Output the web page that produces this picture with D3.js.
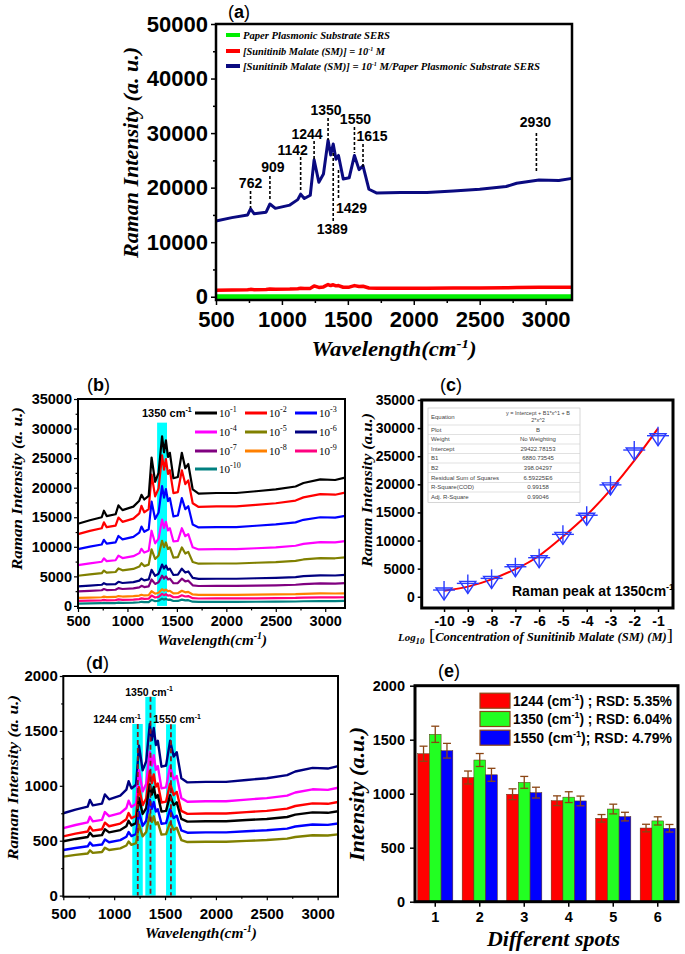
<!DOCTYPE html>
<html><head><meta charset="utf-8">
<script src="https://cdn.jsdelivr.net/npm/d3@7"></script>
<style>body{margin:0;background:#fff}svg{display:block}</style>
</head><body>
<script>
// ---------------- DATA ----------------
const specX = [500,620,740,762,790,880,909,950,1060,1120,1142,1170,1215,1244,1280,1315,1350,1370,1389,1410,1429,1465,1510,1550,1585,1615,1660,1720,1900,2100,2300,2500,2700,2780,2950,3100,3200];

// panel (a)
const aSubstrate = [0,0,0,0,0,0,0,0,0,0,0,0,0,0,0,0,0,0,0,0,0,0,0,0,0,0,0,0,0,0,0,0,0,0,0,0,0];
const aBulkSM    = [1200,1240,1280,1350,1290,1310,1420,1360,1400,1470,1570,1490,1530,1980,1700,1800,2240,2050,2190,1990,2040,1740,1750,2040,1860,1910,1610,1560,1560,1560,1590,1610,1640,1680,1730,1720,1750];
const aLegend = ["Paper Plasmonic Substrate SERS", "[Sunitinib Malate (SM)] = 10", "[Sunitinib Malate (SM)] = 10"];
const peakLabels = [762, 909, 1142, 1244, 1350, 1389, 1429, 1550, 1615, 2930];

// panel (b): concentrations 10^-1 ... 10^-10
const bExp = ["-1","-2","-3","-4","-5","-6","-7","-8","-9","-10"];
const sm1  = [13900,14500,15000,16100,15200,15500,17000,16200,16800,17800,18800,18000,18600,25100,21000,22500,28700,26000,28000,25200,25900,21600,21800,25900,23300,24000,19700,19000,19100,19100,19400,19700,20200,20800,21400,21300,21700];
const sm2  = [12150,12690,13140,14130,13320,13590,14940,14220,14760,15660,16920,15840,16380,22230,18540,19890,25470,23040,24840,22320,22950,19080,19260,22950,20610,21240,17370,16740,16830,16830,17100,17370,17820,18360,18900,18810,19170];
const sm3  = [9600,10030,10390,11180,10540,10750,11830,11260,11690,12410,13420,12550,12980,17660,14710,15790,20260,18310,19750,17740,18240,15140,15290,18240,16370,16870,13780,13270,13340,13340,13560,13780,14140,14570,15000,14930,15220];
const sm4  = [6900,7210,7470,8040,7580,7730,8510,8100,8410,8930,9660,9030,9340,12720,10590,11370,14600,13190,14230,12780,13140,10900,11010,13140,11790,12150,9920,9550,9600,9600,9760,9920,10180,10490,10800,10750,10960];
const sm5  = [5100,5340,5540,5980,5620,5740,6340,6020,6260,6660,7220,6740,6980,9580,7940,8540,11020,9940,10740,9620,9900,8180,8260,9900,8860,9140,7420,7140,7180,7180,7300,7420,7620,7860,8100,8060,8220];
const sm6  = [3300,3450,3580,3850,3630,3700,4080,3880,4030,4280,4630,4330,4480,6100,5080,5450,7000,6330,6830,6130,6300,5230,5280,6300,5650,5830,4750,4580,4600,4600,4680,4750,4880,5030,5180,5150,5250];
const sm7  = [2450,2560,2650,2850,2680,2740,3010,2860,2970,3150,3400,3190,3300,4470,3730,4000,5110,4630,4990,4480,4610,3840,3870,4610,4140,4270,3490,3370,3390,3390,3440,3490,3580,3690,3800,3780,3850];
const sm8  = [1360,1420,1470,1580,1490,1520,1670,1590,1650,1750,1890,1770,1830,2480,2070,2220,2840,2570,2770,2490,2560,2130,2150,2560,2300,2370,1940,1870,1880,1880,1910,1940,1990,2050,2110,2100,2140];
const sm9  = [850,900,940,1030,950,980,1100,1030,1080,1160,1270,1180,1230,1750,1420,1540,2030,1820,1980,1750,1810,1470,1480,1810,1600,1660,1310,1260,1270,1270,1290,1310,1350,1400,1450,1440,1470];
const sm10 = [400,430,460,520,470,490,570,530,560,620,700,630,660,1030,800,880,1230,1080,1190,1030,1070,830,840,1070,930,970,720,690,690,690,710,720,750,790,820,810,840];
const bBand = [1300, 1400];

// panel (c)
const cLogConc = [-10,-9,-8,-7,-6,-5,-4,-3,-2,-1];
const cPeak    = [1200,2380,3270,5340,6950,11100,14500,19900,26100,28650];
const cFit     = [1070,1800,3100,4900,7300,10700,14500,19000,24200,29960];
const cTableKeys = ["Equation","Plot","Weight","Intercept","B1","B2","Residual Sum of Squares","R-Square(COD)","Adj. R-Square"];
const cTableVals = ["y = Intercept + B1*x^1 + B", "B", "No Weighting", "29422.78153", "6880.73545", "398.04297", "6.59225E6", "0.99158", "0.99046"];

// panel (d): six spots
const dSpot1 = [750,783,811,871,822,838,921,877,910,965,1042,976,1009,1366,1141,1223,1564,1416,1526,1372,1410,1174,1185,1410,1267,1306,1069,1031,1036,1036,1053,1069,1097,1130,1163,1157,1179];
const dSpot2 = [615,643,667,718,676,690,761,723,751,798,864,808,836,1141,949,1019,1311,1184,1278,1146,1179,977,986,1179,1057,1090,888,855,859,859,874,888,911,939,968,963,982];
const dSpot3 = [540,564,584,628,592,604,664,632,656,696,752,704,728,988,824,884,1132,1024,1104,992,1020,848,856,1020,916,944,772,744,748,748,760,772,792,816,840,836,852];
const dSpot4 = [495,516,534,572,541,551,604,576,597,632,681,639,660,887,744,796,1013,919,989,891,915,765,772,915,824,849,698,674,677,677,688,698,716,737,758,754,768];
const dSpot5 = [415,434,449,483,455,465,511,486,505,536,579,542,561,762,635,682,874,790,852,765,787,654,660,787,706,728,595,573,576,576,586,595,610,629,648,644,657];
const dSpot6 = [355,371,384,412,389,397,436,415,430,456,493,462,477,646,540,579,740,670,722,649,667,555,560,667,599,618,506,488,490,490,498,506,519,534,550,547,558];
const dBands = [[1178,1281,1563],[1306,1408,1810],[1510,1606,1560]];
const dMarks = [1232, 1357, 1558];
const dLabels = ["1244 cm", "1350 cm", "1550 cm"];

// panel (e)
const spots = ["1","2","3","4","5","6"];
const e1244 = [1370,1150,995,935,772,682];
const e1244Err = [70,60,50,45,35,35];
const e1350 = [1550,1312,1105,968,858,748];
const e1350Err = [75,60,55,50,45,38];
const e1550 = [1398,1175,1010,933,788,680];
const e1550Err = [68,60,50,45,40,35];
const eLegend = [["1244 (cm", ") ; RSD: 5.35%"], ["1350 (cm", ") ; RSD: 6.04%"], ["1550 (cm", ");  RSD: 4.79%"]];

// ---------------- DRAW ----------------
const SANS = "'Liberation Sans', Arial, sans-serif";
const SERIF = "'Liberation Serif', 'Times New Roman', serif";
const svg = d3.select('body').append('svg').attr('width',685).attr('height',954);
svg.append('rect').attr('width',685).attr('height',954).attr('fill','#fff');

function rich(g, x, y, parts, o){
  const t = g.append('text').attr('x',x).attr('y',y)
    .attr('font-family',o.family||SANS).attr('font-size',o.size)
    .attr('font-weight',o.weight||'normal').attr('font-style',o.style||'normal')
    .attr('text-anchor',o.anchor||'start').attr('fill',o.fill||'#000');
  if(o.rotate) t.attr('transform',`rotate(${o.rotate},${x},${y})`);
  let cur=0;
  parts.forEach(p=>{
    const q = typeof p==='string'? {t:p} : p;
    const target = q.sup ? -o.size*(q.rise||0.42) : q.sub ? o.size*0.3 : 0;
    const s = t.append('tspan').text(q.t);
    if(target!==cur){ s.attr('dy', target-cur); cur=target; }
    if(q.sup||q.sub) s.attr('font-size', q.size||o.size*0.65);
    else if(q.size) s.attr('font-size', q.size);
    if(q.style) s.attr('font-style',q.style);
    if(q.weight) s.attr('font-weight',q.weight);
  });
  if(o.width) t.attr('textLength',o.width).attr('lengthAdjust','spacingAndGlyphs');
  return t;
}
function axisStyle(sel, fs, tw){
  sel.select('.domain').remove();
  sel.selectAll('text').attr('font-family',SANS).attr('font-size',fs).attr('font-weight','bold').attr('fill','#000');
  sel.selectAll('line').attr('stroke','#000').attr('stroke-width',tw);
}
function buildAxes(o){
  const g = svg.append('g');
  const yl = g.append('g').attr('transform',`translate(${o.x0},0)`)
    .call(d3.axisLeft(o.y).tickValues(o.yTicks).tickSize(o.tl).tickPadding(o.ypad).tickFormat(d=>String(d)));
  axisStyle(yl,o.fs,o.tw);
  if(o.yMinor){
    const m = g.append('g').attr('transform',`translate(${o.x0},0)`)
      .call(d3.axisLeft(o.y).tickValues(o.yMinor).tickSize(o.tl*0.6).tickFormat(''));
    axisStyle(m,o.fs,o.tw);
  }
  const xl = g.append('g').attr('transform',`translate(0,${o.y1})`)
    .call(d3.axisBottom(o.x).tickValues(o.xTicks).tickSize(o.tl).tickPadding(o.xpad).tickFormat(d=>String(d)));
  axisStyle(xl,o.fs,o.tw);
  if(o.xMinor){
    const m = g.append('g').attr('transform',`translate(0,${o.y1})`)
      .call(d3.axisBottom(o.x).tickValues(o.xMinor).tickSize(o.tl*0.6).tickFormat(''));
    axisStyle(m,o.fs,o.tw);
  }
  g.append('rect').attr('x',o.x0).attr('y',o.y0).attr('width',o.x1-o.x0).attr('height',o.y1-o.y0)
    .attr('fill','none').attr('stroke','#000').attr('stroke-width',o.fw);
}
function spectrum(g, x, y, vals, color, w){
  const line = d3.line().x((d,i)=>x(specX[i])).y(d=>y(d));
  g.append('path').attr('d',line(vals)).attr('fill','none').attr('stroke',color)
    .attr('stroke-width',w).attr('stroke-linejoin','round');
}
function panelTitle(x, y, letter){
  rich(svg, x, y, ["(", {t:letter, weight:'bold'}, ")"], {size:18});
}
const range = (a,b,s)=>d3.range(a,b+1e-9,s);

// ===== Panel (a) =====
{
  const x0=216,x1=572,y0=24,y1=300;
  const x = d3.scaleLinear().domain([500,3200]).range([x0,x1]);
  const y = d3.scaleLinear().domain([-600,50000]).range([y1,y0]);
  const g = svg.append('g');
  spectrum(g,x,y,aSubstrate,'#00ee00',5);
  spectrum(g,x,y,aBulkSM,'#ff0000',3.5);
  spectrum(g,x,y,sm1,'#0a0a80',3);
  // peak annotations (label dx, label baseline, dash y-from, dash y-to)
  const ann = {762:[0,188,191,208],909:[3,172,176,201],1142:[-8,155,157,191],1244:[-7,139,141,160],
    1350:[-2,115,118,140],1550:[1,124,127,153],1615:[9,141,144,168],2930:[-1,127,133,173],
    1429:[13,213,170,200],1389:[-1,234,153,221]};
  peakLabels.forEach(p=>{
    const a = ann[p], px = x(p);
    g.append('line').attr('x1',px).attr('x2',px).attr('y1',a[2]).attr('y2',a[3])
      .attr('stroke','#000').attr('stroke-width',1.6).attr('stroke-dasharray','3,2');
    g.append('text').attr('x',px+a[0]).attr('y',a[1]).attr('text-anchor','middle')
      .attr('font-family',SANS).attr('font-weight','bold').attr('font-size',14).text(p);
  });
  // legend
  const cols = ['#00ee00','#ff0000','#0a0a80'];
  const ly = [35,51,66];
  const lw = [147,142,297];
  cols.forEach((c,i)=>{
    g.append('line').attr('x1',226).attr('x2',240).attr('y1',ly[i]).attr('y2',ly[i]).attr('stroke',c).attr('stroke-width',4);
    const parts = i===0 ? [aLegend[0]] : i===1 ? [aLegend[1],{t:"-1",sup:true,size:6,rise:0.33}," M"] : [aLegend[2],{t:"-1",sup:true,size:6,rise:0.33}," M/Paper Plasmonic Substrate SERS"];
    rich(g,243,ly[i]+3.5,parts,{family:SERIF,size:10.5,weight:'bold',style:'italic',width:lw[i]});
  });
  buildAxes({x,y,x0,x1,y0,y1,xTicks:range(500,3000,500),xMinor:range(750,2750,500),
    yTicks:range(0,50000,10000),yMinor:range(5000,45000,10000),tl:5,ypad:3,xpad:6,fs:22,tw:1.5,fw:2.5});
  rich(svg,138,152.5,["Raman Intensity (a. u.)"],{family:SERIF,size:21,weight:'bold',style:'italic',anchor:'middle',rotate:-90,width:211});
  rich(svg,394,356,["Wavelength(cm",{t:"-1",sup:true},")"],{family:SERIF,size:20,weight:'bold',style:'italic',anchor:'middle',width:165});
  panelTitle(228,18,'a');
}

// ===== Panel (b) =====
{
  const x0=78,x1=345,y0=399,y1=608;
  const x = d3.scaleLinear().domain([500,3200]).range([x0,x1]);
  const y = d3.scaleLinear().domain([-350,35000]).range([y1,y0]);
  const g = svg.append('g');
  g.append('rect').attr('x',x(bBand[0])).attr('width',x(bBand[1])-x(bBand[0]))
    .attr('y',y(31000)).attr('height',y(0)-y(31000)).attr('fill','#00ffff');
  const series = [sm1,sm2,sm3,sm4,sm5,sm6,sm7,sm8,sm9,sm10];
  const colors = ['#000000','#ff0000','#0000ff','#ff00ff','#808000','#000080','#800080','#ff8000','#ff0080','#008080'];
  for(let i=series.length-1;i>=0;i--) spectrum(g,x,y,series[i],colors[i],2.2);
  rich(g,142,417,["1350 cm",{t:"-1",sup:true}],{size:11,weight:'bold'});
  const lx=[195,245,295], lyy=[413,432,451,469];
  bExp.forEach((e,i)=>{
    const cx = lx[i%3], cy = lyy[Math.floor(i/3)];
    g.append('line').attr('x1',cx).attr('x2',cx+22).attr('y1',cy).attr('y2',cy).attr('stroke',colors[i]).attr('stroke-width',3);
    rich(g,cx+24,cy+4,["10",{t:e,sup:true,size:8}],{family:SERIF,size:11});
  });
  buildAxes({x,y,x0,x1,y0,y1,xTicks:range(500,3000,500),xMinor:range(750,2750,500),
    yTicks:range(0,35000,5000),yMinor:range(2500,32500,5000),tl:4,ypad:2,xpad:3.6,fs:14.5,tw:1.2,fw:2});
  rich(svg,22,488.5,["Raman Intensity (a. u.)"],{family:SERIF,size:15,weight:'bold',style:'italic',anchor:'middle',rotate:-90,width:163});
  rich(svg,212,645,["Wavelength(cm",{t:"-1",sup:true},")"],{family:SERIF,size:15,weight:'bold',style:'italic',anchor:'middle',width:110});
  panelTitle(87,391,'b');
}

// ===== Panel (c) =====
{
  const x0=421.7,x1=673,y0=400,y1=608;
  const x = d3.scaleLinear().domain([-10.94,-0.37]).range([x0,x1]);
  const y = d3.scaleLinear().domain([-2000,35000]).range([y1,y0]);
  const g = svg.append('g');
  // table
  const tx0=428, tx1=580;
  const rowY = [408,425,434.5,444,453.5,463,472.5,482.5,492,502.5];
  g.append('rect').attr('x',tx0).attr('y',rowY[0]).attr('width',tx1-tx0).attr('height',rowY[9]-rowY[0])
    .attr('fill','#fff').attr('stroke','#bbb').attr('stroke-width',0.6);
  rowY.slice(1,9).forEach(r=>g.append('line').attr('x1',tx0).attr('x2',tx1).attr('y1',r).attr('y2',r).attr('stroke','#ccc').attr('stroke-width',0.6));
  cTableKeys.forEach((k,i)=>{
    const cy=(rowY[i]+rowY[i+1])/2;
    g.append('text').attr('x',tx0+3).attr('y',cy+2).attr('font-family',SANS).attr('font-size',6).attr('fill','#444').text(k);
    if(i===0){
      g.append('text').attr('x',538).attr('y',cy-1.5).attr('text-anchor','middle').attr('font-family',SANS).attr('font-size',5.5).attr('fill','#444').text(cTableVals[0]);
      g.append('text').attr('x',538).attr('y',cy+5.5).attr('text-anchor','middle').attr('font-family',SANS).attr('font-size',5.5).attr('fill','#444').text("2*x^2");
    } else {
      g.append('text').attr('x',538).attr('y',cy+2).attr('text-anchor','middle').attr('font-family',SANS).attr('font-size',6).attr('fill','#444').text(cTableVals[i]);
    }
  });
  // fit curve
  const fit = d3.line().curve(d3.curveNatural).x((d,i)=>x(cLogConc[i])).y(d=>y(d));
  g.append('path').attr('d',fit(cFit)).attr('fill','none').attr('stroke','#ff0000').attr('stroke-width',2);
  // markers
  cLogConc.forEach((c,i)=>{
    const px=x(c), py=y(cPeak[i]);
    const m = g.append('g').attr('transform',`translate(${px},${py})`).attr('stroke','#2a3cff').attr('fill','none').attr('stroke-width',1.4);
    m.append('path').attr('d','M-8,-2L8,-2L0,10Z');
    m.append('line').attr('x1',-11).attr('x2',11).attr('y1',0).attr('y2',0);
    m.append('line').attr('x1',0).attr('x2',0).attr('y1',-9).attr('y2',10);
  });
  rich(g,512,596,["Raman peak at 1350cm",{t:"-1",sup:true,size:9}],{size:14});
  g.selectAll('text').filter(function(){return this.textContent.startsWith('Raman peak');}).attr('font-weight','bold');
  buildAxes({x,y,x0,x1,y0,y1,xTicks:cLogConc,
    yTicks:range(0,35000,5000),tl:4,ypad:3,xpad:3.7,fs:14,tw:1.5,fw:3});
  rich(svg,372,490,["Raman Intensity  (a.u.)"],{family:SERIF,size:14.5,weight:'bold',style:'italic',anchor:'middle',rotate:-90,width:154});
  rich(svg,398,641,[{t:"Log",size:10},{t:"10",sub:true,size:8},{t:" [",size:17,style:'normal',weight:'normal'},"Concentration of  Sunitinib Malate (SM) (M)",{t:"]",size:17,style:'normal',weight:'normal'}],
    {family:SERIF,size:11.5,weight:'bold',style:'italic',width:275});
  panelTitle(440,391,'c');
}

// ===== Panel (d) =====
{
  const x0=63.3,x1=338,y0=676,y1=896.7;
  const x = d3.scaleLinear().domain([500,3200]).range([x0,x1]);
  const y = d3.scaleLinear().domain([-10,2000]).range([y1,y0]);
  const g = svg.append('g');
  dBands.forEach(b=>{
    g.append('rect').attr('x',x(b[0])).attr('width',x(b[1])-x(b[0])).attr('y',y(b[2])).attr('height',y(0)-y(b[2])).attr('fill','#00ffff');
  });
  const series=[dSpot1,dSpot2,dSpot3,dSpot4,dSpot5,dSpot6];
  const colors=['#000080','#ff00ff','#ff0000','#000000','#0000ff','#808000'];
  series.forEach((s,i)=>spectrum(g,x,y,s,colors[i],2.4));
  dMarks.forEach((m,i)=>{
    g.append('line').attr('x1',x(m)).attr('x2',x(m)).attr('y1',y(dBands[i][2])).attr('y2',y(0))
      .attr('stroke','#8b1a1a').attr('stroke-width',1.8).attr('stroke-dasharray','5,3');
  });
  const lpos=[[121,723],[153,695.5],[181,723]];
  dLabels.forEach((l,i)=>rich(g,lpos[i][0]-4,lpos[i][1],[l,{t:"-1",sup:true}],{size:10.5,weight:'bold',anchor:'middle'}));
  buildAxes({x,y,x0,x1,y0,y1,xTicks:range(500,3000,500),xMinor:range(750,2750,500),
    yTicks:range(0,2000,500),yMinor:range(250,1750,500),tl:3.5,ypad:2,xpad:8,fs:15,tw:1.2,fw:2});
  rich(svg,18,777.5,["Raman Intensity (a. u.)"],{family:SERIF,size:15,weight:'bold',style:'italic',anchor:'middle',rotate:-90,width:165});
  rich(svg,201,938,["Wavelength(cm",{t:"-1",sup:true},")"],{family:SERIF,size:15,weight:'bold',style:'italic',anchor:'middle',width:112});
  panelTitle(86,669,'d');
}

// ===== Panel (e) =====
{
  const x0=415,x1=678,y0=685.7,y1=901.7;
  const x = d3.scaleBand().domain(spots).range([x0,x1]).paddingInner(0.21).paddingOuter(0.06);
  const xs = d3.scaleBand().domain(['a','b','c']).range([0,x.bandwidth()]);
  const y = d3.scaleLinear().domain([0,2000]).range([y1,y0]);
  const g = svg.append('g');
  const groups=[[e1244,e1244Err,'#ff0000','a'],[e1350,e1350Err,'#22ff22','b'],[e1550,e1550Err,'#0000ff','c']];
  groups.forEach(([vals,errs,col,k])=>{
    spots.forEach((s,i)=>{
      const bx = x(s)+xs(k), bw = xs.bandwidth();
      g.append('rect').attr('x',bx).attr('y',y(vals[i])).attr('width',bw).attr('height',y(0)-y(vals[i]))
        .attr('fill',col).attr('stroke','#5a3010').attr('stroke-width',0.5);
      const cx = bx+bw/2;
      const e = g.append('g').attr('stroke','#8b4513').attr('stroke-width',1.3);
      e.append('line').attr('x1',cx).attr('x2',cx).attr('y1',y(vals[i]+errs[i])).attr('y2',y(vals[i]-errs[i]));
      e.append('line').attr('x1',cx-4).attr('x2',cx+4).attr('y1',y(vals[i]+errs[i])).attr('y2',y(vals[i]+errs[i]));
      e.append('line').attr('x1',cx-4).attr('x2',cx+4).attr('y1',y(vals[i]-errs[i])).attr('y2',y(vals[i]-errs[i]));
    });
  });
  const ly=[700.7,719,737.7];
  groups.forEach((gr,i)=>{
    g.append('rect').attr('x',480).attr('y',ly[i]-7.5).attr('width',30).attr('height',15)
      .attr('fill',gr[2]).attr('stroke','#8b4513').attr('stroke-width',1.2);
    rich(g,513,ly[i]+5,[eLegend[i][0],{t:"-1",sup:true},eLegend[i][1]],{size:14,weight:'bold',width:159});
  });
  buildAxes({x,y,x0,x1,y0,y1,xTicks:spots,
    yTicks:range(0,2000,500),tl:5,ypad:5,xpad:5,fs:14.5,tw:1.5,fw:3});
  rich(svg,364,794,["Intensity (a.u.)"],{family:SERIF,size:20,weight:'bold',style:'italic',anchor:'middle',rotate:-90,width:134});
  rich(svg,553.5,946,["Different spots"],{family:SERIF,size:20,weight:'bold',style:'italic',anchor:'middle',width:133});
  panelTitle(438,677,'e');
}
</script>
</body></html>
